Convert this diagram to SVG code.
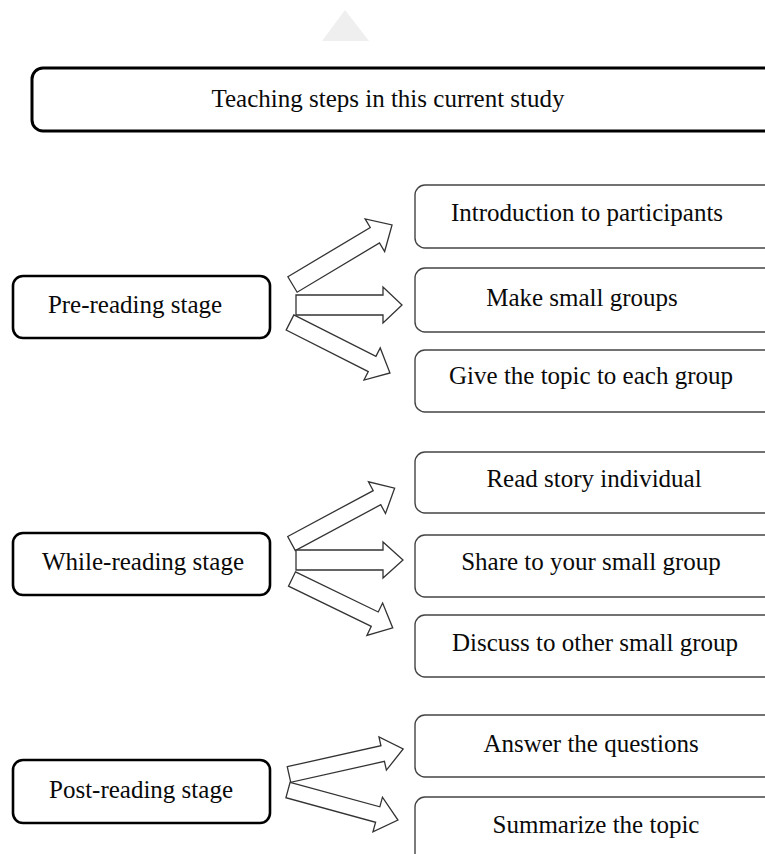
<svg xmlns="http://www.w3.org/2000/svg" width="765" height="854" viewBox="0 0 765 854">
<style>
text{font-family:"Liberation Serif","Times New Roman",serif;font-size:25px;fill:#0a0a0a;text-anchor:middle}
.stage{fill:#fff;stroke:#000;stroke-width:2.6}
.step{fill:#fff;stroke:#444;stroke-width:1.4}
.title{fill:#fff;stroke:#000;stroke-width:3}
.arr{fill:#fff;stroke:#333;stroke-width:1.3;stroke-linejoin:miter}
</style>
<polygon points="345,10 322,41 369,41" fill="#efefef"/>
<g id="title">
<rect class="title" x="32" y="68" width="760" height="63" rx="11"/>
<text x="388" y="107">Teaching steps in this current study</text>
</g>
<g id="pre">
<rect class="stage" x="13" y="276" width="257" height="62" rx="10"/>
<text x="135" y="313">Pre-reading stage</text>
</g>
<g id="while">
<rect class="stage" x="13" y="533" width="257" height="62" rx="10"/>
<text x="143" y="570">While-reading stage</text>
</g>
<g id="post">
<rect class="stage" x="13" y="760" width="257" height="63" rx="10"/>
<text x="141" y="798">Post-reading stage</text>
</g>
<g id="s1"><rect class="step" x="415" y="185" width="370" height="63" rx="10"/><text x="587" y="221">Introduction to participants</text></g>
<g id="s2"><rect class="step" x="415" y="268" width="370" height="64" rx="10"/><text x="582" y="306">Make small groups</text></g>
<g id="s3"><rect class="step" x="415" y="350" width="370" height="62" rx="10"/><text x="591" y="384">Give the topic to each group</text></g>
<g id="s4"><rect class="step" x="415" y="452" width="370" height="61" rx="10"/><text x="594" y="487">Read story individual</text></g>
<g id="s5"><rect class="step" x="415" y="535" width="370" height="62" rx="10"/><text x="591" y="570">Share to your small group</text></g>
<g id="s6"><rect class="step" x="415" y="615" width="370" height="62" rx="10"/><text x="595" y="651">Discuss to other small group</text></g>
<g id="s7"><rect class="step" x="415" y="715" width="370" height="62" rx="10"/><text x="591" y="752">Answer the questions</text></g>
<g id="s8"><rect class="step" x="415" y="797" width="370" height="80" rx="10"/><text x="596" y="833">Summarize the topic</text></g>
<g id="connectors">
<polygon class="arr" transform="translate(292.5,284.5) rotate(-30.9)" points="0,-9 96,-9 96,-19 116,0 96,19 96,9 0,9"/>
<polygon class="arr" transform="translate(290,322.5) rotate(26.8)" points="0,-8.5 92,-8.5 92,-18 112,0 92,18 92,8.5 0,8.5"/>
<polygon class="arr" transform="translate(296,305)" points="0,-10 87,-10 87,-18 106,0 87,18 87,10 0,10"/>
<polygon class="arr" transform="translate(291.5,543.5) rotate(-28.2)" points="0,-8 97,-8 97,-18 117,0 97,18 97,8 0,8"/>
<polygon class="arr" transform="translate(292,579) rotate(25.9)" points="0,-8 92,-8 92,-18 112,0 92,18 92,8 0,8"/>
<polygon class="arr" transform="translate(296,560)" points="0,-10 87,-10 87,-18 107,0 87,18 87,10 0,10"/>
<polygon class="arr" transform="translate(289,774.5) rotate(-12.6)" points="0,-8 96,-8 96,-17 117,0 96,17 96,8 0,8"/>
<polygon class="arr" transform="translate(288,790) rotate(15.3)" points="0,-8 93,-8 93,-18 114,0 93,18 93,8 0,8"/>
</g>
</svg>
